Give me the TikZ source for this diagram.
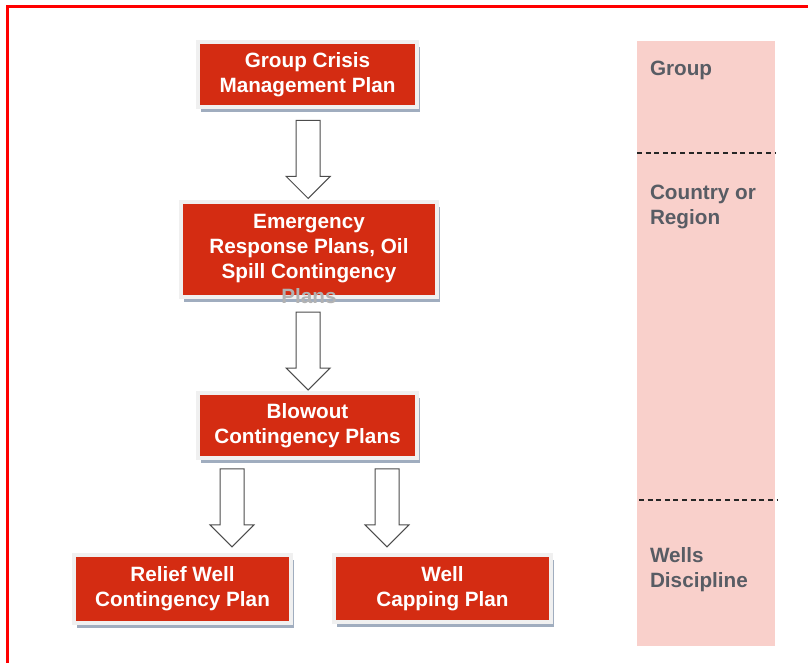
\documentclass[tikz,border=0pt]{standalone}
\usepackage{fontspec}
\setmainfont{Liberation Sans}
\usetikzlibrary{shapes.arrows,shadows}
\definecolor{planred}{RGB}{212,44,18}
\definecolor{bandpink}{RGB}{249,208,203}
\definecolor{bandtext}{RGB}{88,92,100}
\definecolor{framegray}{RGB}{240,240,240}
\definecolor{shadowblue}{RGB}{150,164,184}
\begin{document}
\begin{tikzpicture}[x=1pt,y=-1pt,
plan/.style={fill=planred, draw=framegray, line width=4pt, text=white, font=\fontsize{20.7}{25}\selectfont\bfseries, align=center, drop shadow={shadow xshift=3pt, shadow yshift=-5pt, fill=shadowblue, opacity=.9}},
downarrow/.style={single arrow, draw=black!70, fill=white, line width=1pt, rotate=-90, inner xsep=0pt, inner ysep=11.5pt, minimum height=78pt, single arrow head extend=10pt, single arrow head indent=0pt},
band/.style={text=bandtext, font=\fontsize{20.7}{25}\selectfont\bfseries, align=left, anchor=west}]
\useasboundingbox (0,0) rectangle (808,663);

\draw[red, line width=2.5pt] (7.5,663) -- (7.5,6.5) -- (808,6.5);

\fill[bandpink] (637,41) rectangle (775,646);
\draw[black!85, line width=1.2pt, dash pattern=on 5pt off 3.6pt] (637,153) -- (776,153);
\draw[black!85, line width=1.2pt, dash pattern=on 5pt off 3.6pt] (639,500) -- (778,500);

\node[band] (lgroup) at (646.5,70){Group};
\node[band] (lcountry) at (646.5,207){Country or\\Region};
\node[band] (lwells) at (646.5,570){Wells\\Discipline};

\node[plan, minimum width=219pt, minimum height=65pt] (gcmp) at (307.5,75){Group Crisis\\Management Plan};
\node[plan, minimum width=256pt, minimum height=95pt] (erp) at (309,249.5){};
\node[text=white, font=\fontsize{20.7}{25}\selectfont\bfseries, align=center] (erptxt) at (309,258.5){Emergency\\Response Plans, Oil\\Spill Contingency\\\textcolor{black!30}{Plans}};
\node[plan, minimum width=219pt, minimum height=65pt] (bcp) at (307.5,425.5){Blowout\\Contingency Plans};
\node[plan, minimum width=217pt, minimum height=68pt] (rwcp) at (182.5,589){Relief Well\\Contingency Plan};
\node[plan, minimum width=217pt, minimum height=67pt] (wcp) at (442.5,588.5){Well\\Capping Plan};

\coordinate (c3) at (232,0);
\coordinate (c4) at (387,0);

\path[](gcmp) -- (erp) node[downarrow, pos=.485] (a1){};
\path[](erp) -- (bcp) node[downarrow, pos=.5] (a2){};
\path[](bcp.south -| c3) -- (rwcp.north -| c3) node[downarrow, pos=.45] (a3){};
\path[](bcp.south -| c4) -- (wcp.north -| c4) node[downarrow, pos=.45] (a4){};

\end{tikzpicture}
\end{document}
